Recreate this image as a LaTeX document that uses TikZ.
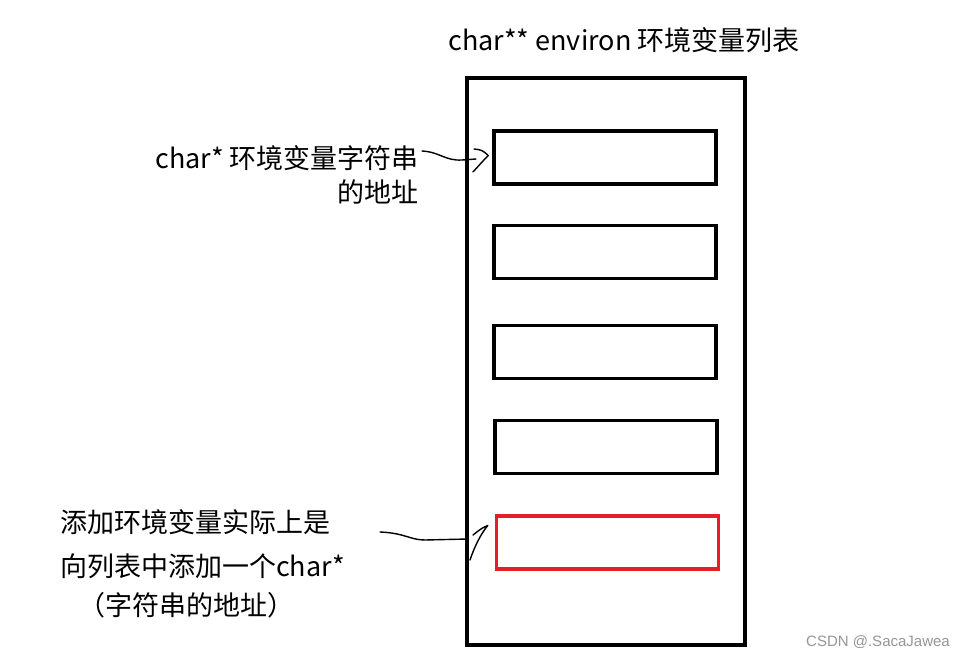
\documentclass[tikz,border=0pt]{standalone}
\usepackage{fontspec}
\newfontfamily\cjk{Noto Sans CJK SC}
\newfontfamily\wmfont{Liberation Sans}
\begin{document}
\begin{tikzpicture}[x=1pt,y=-1pt,
  lbl/.style={font=\cjk\fontsize{27}{32}\selectfont, inner sep=0pt},
  slot/.style={draw=black, line width=3.5pt, minimum width=222pt, minimum height=53pt, inner sep=0pt},
  frame/.style={draw=black, line width=4pt, minimum width=278pt, minimum height=567pt, inner sep=0pt},
  hand/.style={line width=1.4pt, line cap=round, line join=round}]
\useasboundingbox (0,0) rectangle (965,660);
\fill[white] (0,0) rectangle (965,660);

\node[frame] (outer) at (606,361.5) {};
\node[slot] (b1) at (605,157.5) {};
\node[slot] (b2) at (605,252) {};
\node[slot] (b3) at (605,352) {};
\node[slot] (b4) at (606,447) {};
\node[slot, draw={rgb,255:red,230;green,30;blue,40}] (b5) at (607.5,542.5) {};

\node[lbl] (title) at (624,40) {char** environ 环境变量列表};

\node[lbl, anchor=east] (l1a) at (419,158) {char* 环境变量字符串};
\node[lbl, anchor=east] (l1b) at (419,192) {的地址};

\node[lbl, anchor=west] (l2a) at (60,522) {添加环境变量实际上是};
\node[lbl, anchor=west] (l2b) at (60,566) {向列表中添加一个char*};
\node[lbl] (l2c) at (186.5,605) {（字符串的地址）};

\node[font=\wmfont\fontsize{15}{17}\selectfont, text={rgb,255:red,150;green,150;blue,150}, anchor=east, inner sep=0pt] (wm) at (950,642) {CSDN @.SacaJawea};

% hand-drawn arrow 1
\coordinate (t1) at ([xshift=-4pt,yshift=2pt]b1.west);
\coordinate (s1) at ([xshift=3pt,yshift=7pt]l1a.east);
\draw[hand] (s1) .. controls (440,152) and (445,161) .. (462,160) -- (476,159);
\draw[hand] (474,149) .. controls (482,150) .. (t1) .. controls (482,162) .. (473,172);

% hand-drawn arrow 2
\coordinate (t2) at ([xshift=-7pt,yshift=17pt]b5.west);
\coordinate (s2) at (380,532);
\draw[hand] (s2) .. controls (405,533) and (410,540) .. (425,540) -- (468,539);
\draw[hand] (473,535) .. controls (482,528) .. (t2) .. controls (480,535) and (474,548) .. (470,560);
\end{tikzpicture}
\end{document}
